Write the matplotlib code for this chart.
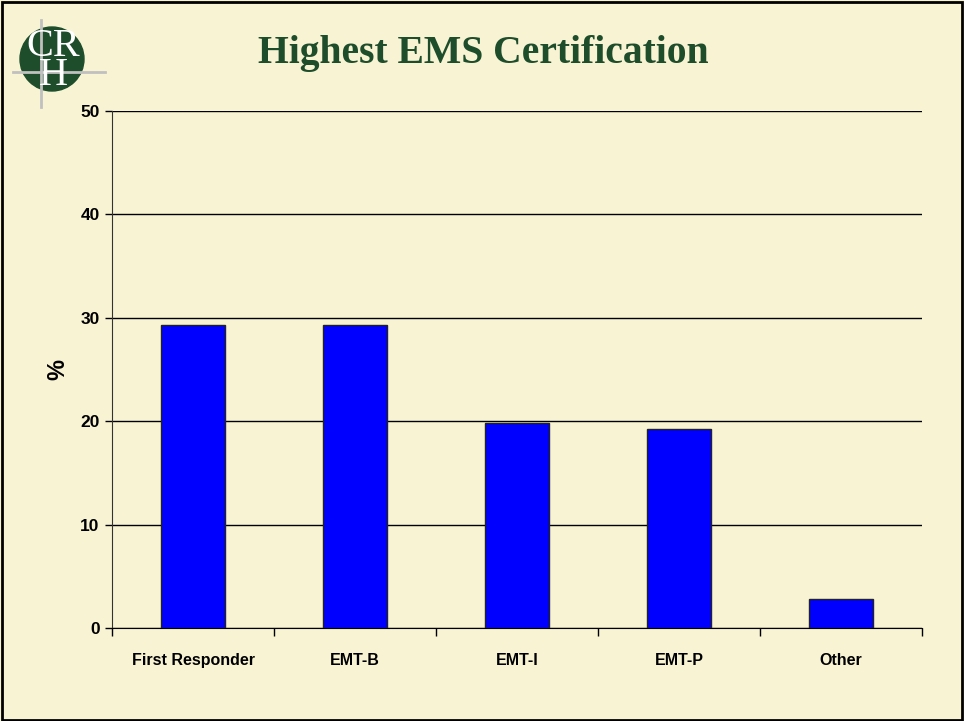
import numpy as np
import matplotlib.pyplot as plt
from matplotlib.patches import Circle, Rectangle
from matplotlib.lines import Line2D

categories = ['First Responder', 'EMT-B', 'EMT-I', 'EMT-P', 'Other']
values = [29.3, 29.3, 19.8, 19.2, 2.8]

bg = '#F8F3D3'
green = '#1E4D2B'

fig = plt.figure(figsize=(9.64, 7.21), dpi=100, facecolor=bg)
fig.patches.append(Rectangle((0.002, 0.002), 0.996, 0.995, transform=fig.transFigure,
                             fill=False, edgecolor='black', linewidth=2))

ax = fig.add_axes([0.1162, 0.1290, 0.8402, 0.7170])
ax.set_facecolor(bg)

x = np.arange(len(categories))
ax.bar(x, values, width=0.4, color='#0000FF', edgecolor='#222222', linewidth=1, zorder=3)

ax.set_xlim(-0.5, len(categories) - 0.5)
ax.set_ylim(0, 50)
ax.set_yticks(np.arange(0, 51, 10))
ax.yaxis.grid(True, color='black', linewidth=1, zorder=0)
ax.set_axisbelow(True)

ax.set_xticks(x)
ax.set_xticklabels(categories)
ax.set_xticks(np.arange(-0.5, len(categories), 1), minor=True)
ax.tick_params(axis='x', which='major', length=0, pad=18)
ax.tick_params(axis='x', which='minor', length=6, direction='out', width=1)
ax.tick_params(axis='y', length=5, width=1, direction='out', pad=4)

for lab in ax.get_xticklabels() + ax.get_yticklabels():
    lab.set_fontfamily('Liberation Sans')
    lab.set_fontweight('bold')
    lab.set_fontsize(11.5)
for lab in ax.get_yticklabels():
    lab.set_fontsize(12.5)

for side in ['top', 'right']:
    ax.spines[side].set_visible(False)
ax.spines['left'].set_color('#333333')
ax.spines['bottom'].set_color('black')

ax.set_ylabel('%', fontsize=17, fontweight='bold', family='Liberation Sans', labelpad=8)

fig.text(0.501, 0.926, 'Highest EMS Certification', ha='center', va='center',
         fontsize=28.5, fontweight='bold', color=green, family='Liberation Serif')

# logo (pixel coordinates of the top-left corner)
logo = fig.add_axes([0, 1 - 115 / 721, 120 / 964, 115 / 721])
logo.set_xlim(0, 120)
logo.set_ylim(115, 0)
logo.axis('off')
logo.add_patch(Circle((52, 59), 32, color=green, zorder=1))
logo.add_line(Line2D([41, 41], [20, 107], color='#C0C0C0', linewidth=2, zorder=2))
logo.add_line(Line2D([13, 105], [72, 72], color='#C0C0C0', linewidth=2, zorder=2))
logo.text(53, 61, 'CR\nH', color='white', fontsize=29, family='Liberation Serif',
          ha='center', va='center', multialignment='center', linespacing=0.72,
          zorder=3)

fig.savefig('out.png', dpi=100, facecolor=bg)
